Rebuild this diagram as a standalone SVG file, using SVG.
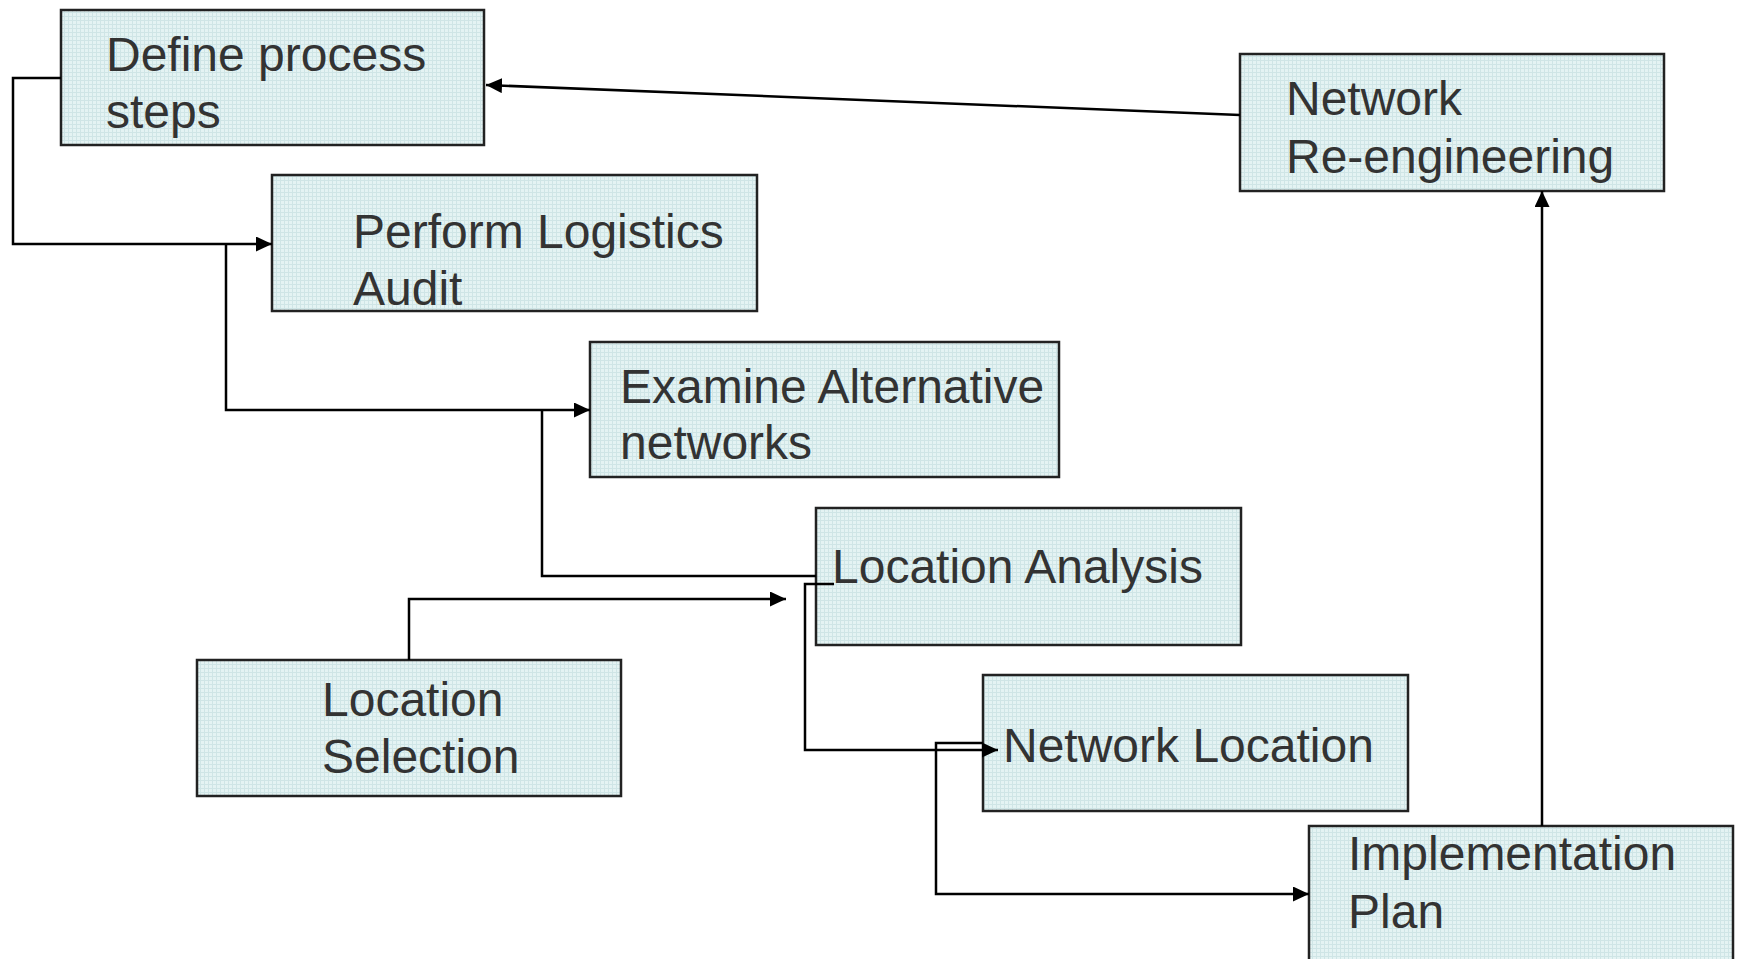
<svg xmlns="http://www.w3.org/2000/svg" width="1737" height="959" viewBox="0 0 1737 959">
<style>
.box{fill:url(#grid);stroke:#222;stroke-width:2.5}
.lbl{font-family:"Liberation Sans",Arial,sans-serif;font-size:48px;fill:#333}
.conn{fill:none;stroke:#000;stroke-width:2.5}
</style>
<defs>
<pattern id="grid" width="4" height="4" patternUnits="userSpaceOnUse">
<rect width="4" height="4" fill="#e4f3f3"/>
<path d="M0 0.5H4M0.5 0V4" stroke="#cfe5e6" stroke-width="1"/>
</pattern>
<marker id="arr" markerUnits="userSpaceOnUse" markerWidth="17" markerHeight="15" refX="16" refY="7.5" orient="auto">
<path d="M0 0L16 7.5L0 15z" fill="#000"/>
</marker>
</defs>
<rect width="1737" height="959" fill="#fff"/>
<g id="n-define"><rect class="box" x="61" y="10" width="423" height="135"/><text class="lbl" x="106" y="71">Define process</text><text class="lbl" x="106" y="128">steps</text></g>
<g id="n-perform"><rect class="box" x="272" y="175" width="485" height="136"/><text class="lbl" x="353" y="248">Perform Logistics</text><text class="lbl" x="353" y="305">Audit</text></g>
<g id="n-examine"><rect class="box" x="590" y="342" width="469" height="135"/><text class="lbl" x="620" y="403">Examine Alternative</text><text class="lbl" x="620" y="459">networks</text></g>
<g id="n-locanalysis"><rect class="box" x="816" y="508" width="425" height="137"/><text class="lbl" x="832" y="583">Location Analysis</text></g>
<g id="n-locselection"><rect class="box" x="197" y="660" width="424" height="136"/><text class="lbl" x="322" y="716">Location</text><text class="lbl" x="322" y="773">Selection</text></g>
<g id="n-netlocation"><rect class="box" x="983" y="675" width="425" height="136"/><text class="lbl" x="1003" y="762">Network Location</text></g>
<g id="n-impl"><rect class="box" x="1309" y="826" width="424" height="150"/><text class="lbl" x="1348" y="870">Implementation</text><text class="lbl" x="1348" y="928">Plan</text></g>
<g id="n-reeng"><rect class="box" x="1240" y="54" width="424" height="137"/><text class="lbl" x="1286" y="115">Network</text><text class="lbl" x="1286" y="173">Re-engineering</text></g>
<g id="connectors">
<path class="conn" d="M61 78H13V244H272" marker-end="url(#arr)"/>
<path class="conn" d="M226 244V410H590" marker-end="url(#arr)"/>
<path class="conn" d="M542 410V576H816"/>
<path class="conn" d="M834 584H805V750H998" marker-end="url(#arr)"/>
<path class="conn" d="M983 743H936V894H1309" marker-end="url(#arr)"/>
<path class="conn" d="M409 660V599H786" marker-end="url(#arr)"/>
<path class="conn" d="M1542 826V191" marker-end="url(#arr)"/>
<path class="conn" d="M1240 115L486 85" marker-end="url(#arr)"/>
</g>
</svg>
